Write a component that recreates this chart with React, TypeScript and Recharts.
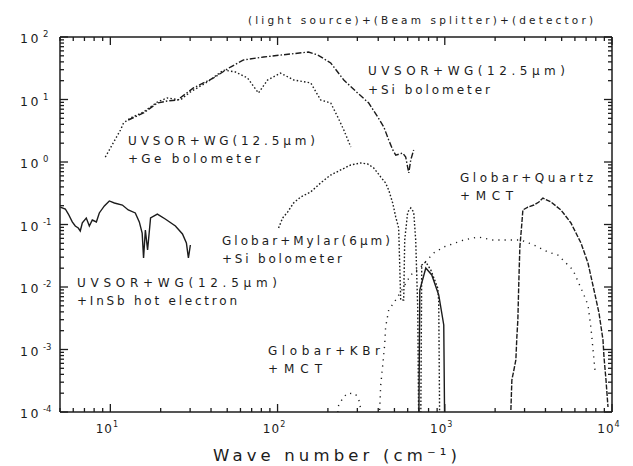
import React from 'react'
import { LineChart, Line, XAxis, YAxis, ReferenceLine } from 'recharts'

type Pt = { x: number; y: number }

// below the 1e-4 floor; the axes clip it so the trace runs off the bottom
const FLOOR = 5e-5

// UVSOR + WG(12.5µm) + Si bolometer
const siBolo: Pt[] = [
  { x: 12.8, y: 4.7 }, { x: 15.8, y: 6.08 }, { x: 19.1, y: 8.79 }, { x: 21.9, y: 9.46 },
  { x: 25.2, y: 9.82 }, { x: 31.4, y: 15.3 }, { x: 41.4, y: 22.1 }, { x: 52.3, y: 33.1 },
  { x: 62.6, y: 42.9 }, { x: 82.5, y: 47.9 }, { x: 119.6, y: 53.5 }, { x: 153, y: 57.5 },
  { x: 174, y: 51.5 }, { x: 208, y: 38.4 }, { x: 249, y: 20.5 }, { x: 301, y: 12.7 },
  { x: 351, y: 8.79 }, { x: 397, y: 5.25 }, { x: 432, y: 3.63 }, { x: 462, y: 2.25 },
  { x: 489, y: 1.56 }, { x: 509, y: 1.29 }, { x: 560, y: 1.39 }, { x: 584, y: 1.2 },
  { x: 609, y: 0.667 }, { x: 626, y: 1.08 }, { x: 652, y: 1.56 },
]

// UVSOR + WG(12.5µm) + Ge bolometer
const geBolo: Pt[] = [
  { x: 9.33, y: 1.2 }, { x: 10, y: 1.67 }, { x: 11.5, y: 3.25 }, { x: 12, y: 4.21 },
  { x: 13.2, y: 5.06 }, { x: 15.8, y: 6.31 }, { x: 19.1, y: 9.12 }, { x: 21.9, y: 10.6 },
  { x: 26.2, y: 9.82 }, { x: 30.1, y: 13.2 }, { x: 38.1, y: 19.1 }, { x: 47.5, y: 29.6 },
  { x: 56.1, y: 27.5 }, { x: 66.1, y: 22.1 }, { x: 76.9, y: 12.7 }, { x: 87.1, y: 20.5 },
  { x: 104, y: 26.5 }, { x: 125, y: 20.5 }, { x: 158, y: 18.4 }, { x: 181, y: 9.82 },
  { x: 208, y: 8.79 }, { x: 229, y: 5.25 }, { x: 249, y: 3.25 }, { x: 274, y: 1.74 },
]

// UVSOR + WG(12.5µm) + InSb hot electron
const insb: Pt[] = [
  { x: 5.02, y: 0.19 }, { x: 5.38, y: 0.177 }, { x: 5.61, y: 0.147 }, { x: 5.92, y: 0.11 },
  { x: 6.17, y: 0.0946 }, { x: 6.43, y: 0.0879 }, { x: 6.61, y: 0.0787 }, { x: 6.8, y: 0.106 },
  { x: 7.18, y: 0.127 }, { x: 7.49, y: 0.0946 }, { x: 7.8, y: 0.118 }, { x: 8.25, y: 0.11 },
  { x: 8.59, y: 0.153 }, { x: 9.21, y: 0.198 }, { x: 9.86, y: 0.238 }, { x: 10.57, y: 0.221 },
  { x: 11.8, y: 0.205 }, { x: 12.8, y: 0.171 }, { x: 14.1, y: 0.153 }, { x: 14.9, y: 0.11 },
  { x: 15.5, y: 0.0731 }, { x: 15.8, y: 0.0291 }, { x: 16.2, y: 0.0817 }, { x: 16.7, y: 0.0391 },
  { x: 17.4, y: 0.127 }, { x: 19.1, y: 0.147 }, { x: 21.3, y: 0.1225 }, { x: 24.5, y: 0.0946 },
  { x: 27, y: 0.0705 }, { x: 28.5, y: 0.0506 }, { x: 29.3, y: 0.0291 }, { x: 30.1, y: 0.047 },
]

// Globar + Mylar(6µm) + Si bolometer
const mylar: Pt[] = [
  { x: 101.4, y: 0.0879 }, { x: 107.2, y: 0.127 }, { x: 114.8, y: 0.158 }, { x: 124.7, y: 0.221 },
  { x: 137.3, y: 0.275 }, { x: 157.6, y: 0.331 }, { x: 180.9, y: 0.461 }, { x: 207.7, y: 0.619 },
  { x: 238.4, y: 0.745 }, { x: 273.5, y: 0.895 }, { x: 314, y: 0.964 }, { x: 346, y: 0.929 },
  { x: 376, y: 0.802 }, { x: 397, y: 0.667 }, { x: 414, y: 0.575 }, { x: 443, y: 0.461 },
  { x: 462, y: 0.356 }, { x: 488, y: 0.221 }, { x: 509, y: 0.132 }, { x: 530, y: 0.0879 },
  { x: 545, y: 0.0062 }, { x: 568, y: 0.0062 }, { x: 576, y: 0.0565 }, { x: 600, y: 0.158 },
  { x: 626, y: 0.184 }, { x: 652, y: 0.158 }, { x: 670, y: 0.0565 }, { x: 689, y: 0.0046 },
  { x: 699, y: FLOOR }, { x: 718, y: FLOOR }, { x: 728, y: 0.0225 }, { x: 770, y: 0.0251 },
  { x: 825, y: 0.0187 }, { x: 908, y: 0.00964 }, { x: 920, y: 0.00575 }, { x: 933, y: FLOOR },
]

// narrow MCT window drawn solid under the Mylar trace
const mctBand: Pt[] = [
  { x: 699, y: FLOOR }, { x: 709, y: 0.00895 }, { x: 770, y: 0.0201 }, { x: 836, y: 0.0156 },
  { x: 920, y: 0.00745 }, { x: 986, y: 0.00247 }, { x: 999, y: FLOOR },
]

// Globar + KBr + MCT
const kbr: Pt[] = [
  { x: 222.5, y: FLOOR }, { x: 232, y: 0.000129 }, { x: 248.5, y: 0.000174 }, { x: 262.6, y: 0.000201 },
  { x: 293, y: 0.000194 }, { x: 310, y: 0.000145 }, { x: 323, y: FLOOR }, { x: 403, y: FLOOR },
  { x: 414, y: 0.00027 }, { x: 425.6, y: 0.000565 }, { x: 437, y: 0.00118 }, { x: 443, y: 0.00229 },
  { x: 462, y: 0.00429 }, { x: 495, y: 0.00555 }, { x: 545, y: 0.00832 }, { x: 626, y: 0.0156 },
  { x: 718, y: 0.0209 }, { x: 859, y: 0.035 }, { x: 986, y: 0.0437 }, { x: 1300, y: 0.0565 },
  { x: 1576, y: 0.0631 }, { x: 1939, y: 0.0565 }, { x: 2851, y: 0.0565 }, { x: 3412, y: 0.047 },
  { x: 4140, y: 0.0363 }, { x: 4750, y: 0.0325 }, { x: 5843, y: 0.0187 }, { x: 6797, y: 0.00745 },
  { x: 7183, y: 0.00515 }, { x: 7486, y: 0.00221 }, { x: 7803, y: 0.000679 }, { x: 7912, y: 0.00047 },
]

// Globar + Quartz + MCT
const quartz: Pt[] = [
  { x: 2485, y: 0.000108 }, { x: 2519, y: 0.000325 }, { x: 2590, y: 0.00047 }, { x: 2661, y: 0.000679 },
  { x: 2698, y: 0.00158 }, { x: 2735, y: 0.00296 }, { x: 2774, y: 0.0129 }, { x: 2812, y: 0.0437 },
  { x: 2891, y: 0.1057 }, { x: 2931, y: 0.171 }, { x: 3141, y: 0.19 }, { x: 3412, y: 0.205 },
  { x: 3655, y: 0.229 }, { x: 3862, y: 0.265 }, { x: 4312, y: 0.229 }, { x: 4950, y: 0.171 },
  { x: 5683, y: 0.1057 }, { x: 6523, y: 0.0506 }, { x: 7183, y: 0.0242 }, { x: 7803, y: 0.00895 },
  { x: 8360, y: 0.00384 }, { x: 8833, y: 0.00142 }, { x: 8956, y: 0.000759 }, { x: 9206, y: 0.000325 },
  { x: 9463, y: 0.00012 },
]

// decades carry labels; 2..9 multiples are the short marks
const xMajor = [10, 100, 1000, 10000]
const xMinor = [5, 6, 7, 8, 9, 20, 30, 40, 50, 60, 70, 80, 90, 200, 300, 400, 500, 600, 700, 800, 900,
  2000, 3000, 4000, 5000, 6000, 7000, 8000, 9000]
const yMajor = [1e-4, 1e-3, 1e-2, 0.1, 1, 10, 100]
const yExp = [-4, -3, -2, -1, 0, 1, 2]
const yMinor = [2e-4, 3e-4, 4e-4, 5e-4, 6e-4, 7e-4, 8e-4, 9e-4, 2e-3, 3e-3, 4e-3, 5e-3, 6e-3, 7e-3, 8e-3, 9e-3,
  0.02, 0.03, 0.04, 0.05, 0.06, 0.07, 0.08, 0.09, 0.2, 0.3, 0.4, 0.5, 0.6, 0.7, 0.8, 0.9,
  2, 3, 4, 5, 6, 7, 8, 9, 20, 30, 40, 50, 60, 70, 80, 90]

const INK = '#1c1c1c'
const FONT = '"DejaVu Sans", "Liberation Sans", sans-serif'
const X_DOMAIN: [number, number] = [5, 10000]
const Y_DOMAIN: [number, number] = [1e-4, 100]

// tick lengths as log-axis ratios: ~8px for decades, ~4px in between
const LONG_X = 1.117
const SHORT_X = 1.057
const LONG_Y = 1.343
const SHORT_Y = 1.159

type Seg = [Pt, Pt]
const tickSegments: Seg[] = [
  ...[...xMajor, ...xMinor].flatMap(v => {
    const f = xMajor.includes(v) ? LONG_Y : SHORT_Y
    return [
      [{ x: v, y: Y_DOMAIN[0] }, { x: v, y: Y_DOMAIN[0] * f }],
      [{ x: v, y: Y_DOMAIN[1] }, { x: v, y: Y_DOMAIN[1] / f }],
    ] as Seg[]
  }),
  ...[...yMajor, ...yMinor].flatMap(v => {
    const f = yMajor.includes(v) ? LONG_X : SHORT_X
    return [
      [{ x: X_DOMAIN[0], y: v }, { x: X_DOMAIN[0] * f, y: v }],
      [{ x: X_DOMAIN[1], y: v }, { x: X_DOMAIN[1] / f, y: v }],
    ] as Seg[]
  }),
]

function XLabel(props: any) {
  const { x, y, payload } = props
  const i = xMajor.indexOf(payload.value)
  if (i < 0) return null
  return (
    <text x={x - 3} y={y + 21} textAnchor="middle" fontSize={12} fontFamily={FONT} fill={INK} letterSpacing={1}>
      10<tspan dy={-6} fontSize={8}>{i + 1}</tspan>
    </text>
  )
}

function YLabel(props: any) {
  const { y, payload } = props
  const i = yMajor.indexOf(payload.value)
  if (i < 0) return null
  return (
    <g>
      <text x={41} y={y + 6} textAnchor="end" fontSize={12.5} fontFamily={FONT} fill={INK} letterSpacing={2.5}>
        10
      </text>
      <text x={43} y={y} fontSize={8.5} fontFamily={FONT} fill={INK}>
        {yExp[i]}
      </text>
    </g>
  )
}

const series = [
  { key: 'si', data: siBolo, dash: '6 2 1.5 2' },
  { key: 'ge', data: geBolo, dash: '1.5 2.2' },
  { key: 'insb', data: insb, dash: undefined },
  { key: 'mylar', data: mylar, dash: '1.6 2' },
  { key: 'band', data: mctBand, dash: undefined },
  { key: 'kbr', data: kbr, dash: '1.2 5' },
  { key: 'quartz', data: quartz, dash: '5 1.5' },
]

const labels = [
  { text: '(light source)+(Beam splitter)+(detector)', x: 248, y: 24, w: 345, size: 10.5 },
  { text: 'UVSOR+WG(12.5µm)', x: 368, y: 75, w: 197, size: 12 },
  { text: '+Si bolometer', x: 368, y: 94, w: 122, size: 12 },
  { text: 'UVSOR+WG(12.5µm)', x: 128, y: 145, w: 187, size: 12 },
  { text: '+Ge bolometer', x: 128, y: 163, w: 132, size: 12 },
  { text: 'Globar+Quartz', x: 460, y: 182, w: 133, size: 12 },
  { text: '+MCT', x: 460, y: 200, w: 53, size: 12 },
  { text: 'Globar+Mylar(6µm)', x: 222, y: 245, w: 168, size: 12 },
  { text: '+Si bolometer', x: 222, y: 263, w: 120, size: 12 },
  { text: 'UVSOR+WG(12.5µm)', x: 77, y: 287, w: 200, size: 12 },
  { text: '+InSb hot electron', x: 77, y: 305, w: 160, size: 12 },
  { text: 'Globar+KBr', x: 268, y: 355, w: 112, size: 12 },
  { text: '+MCT', x: 268, y: 373, w: 54, size: 12 },
  { text: 'Wave number (cm⁻¹)', x: 213, y: 461, w: 244, size: 16.5 },
]

const frame = { stroke: INK, strokeWidth: 1.5 }

export default function App() {
  return (
    <div style={{ position: 'absolute', left: 0, top: 0, width: 633, height: 466, background: '#fff' }}>
      <LineChart width={633} height={466} margin={{ top: 36, right: 20, bottom: 53, left: 59 }}>
        <XAxis
          dataKey="x" type="number" scale="log" domain={X_DOMAIN} allowDataOverflow
          ticks={xMajor} interval={0} height={1} tickSize={0} tickMargin={0} tickLine={false}
          axisLine={frame} tick={<XLabel />}
        />
        <XAxis
          xAxisId="top" orientation="top" dataKey="x" type="number" scale="log" domain={X_DOMAIN} allowDataOverflow
          ticks={xMajor} height={1} tickLine={false} tick={false} axisLine={frame}
        />
        <YAxis
          type="number" scale="log" domain={Y_DOMAIN} allowDataOverflow
          ticks={yMajor} interval={0} width={1} tickSize={0} tickMargin={0} tickLine={false}
          axisLine={frame} tick={<YLabel />}
        />
        <YAxis
          yAxisId="right" orientation="right" type="number" scale="log" domain={Y_DOMAIN} allowDataOverflow
          ticks={yMajor} width={1} tickLine={false} tick={false} axisLine={frame}
        />
        {tickSegments.map((seg, i) => (
          <ReferenceLine key={`t${i}`} segment={seg} stroke={INK} strokeWidth={1.3} ifOverflow="visible" />
        ))}
        {series.map(s => (
          <Line
            key={s.key} data={s.data} dataKey="y" type="linear" dot={false}
            stroke={INK} strokeWidth={1.4} strokeDasharray={s.dash}
            isAnimationActive={false}
          />
        ))}
      </LineChart>
      <svg width={633} height={466} style={{ position: 'absolute', left: 0, top: 0, pointerEvents: 'none' }}>
        {labels.map((l, i) => (
          <text
            key={i} x={l.x} y={l.y} fontSize={l.size} fontFamily={FONT} fill={INK}
            textLength={l.w} lengthAdjust="spacing"
          >
            {l.text}
          </text>
        ))}
      </svg>
    </div>
  )
}
